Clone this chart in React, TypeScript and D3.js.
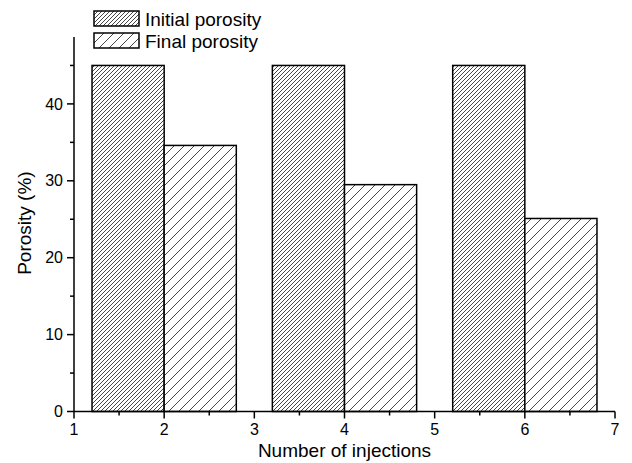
import React from 'react';
import * as d3 from 'd3';

const injections = [2, 4, 6];
const initialPorosity = [45, 45, 45];
const finalPorosity = [34.6, 29.5, 25.1];
const seriesNames = ['Initial porosity', 'Final porosity'];
const xTicks = [1, 2, 3, 4, 5, 6, 7];
const xMinor = [1.5, 2.5, 3.5, 4.5, 5.5, 6.5];
const yTicks = [0, 10, 20, 30, 40];
const yMinor = [5, 15, 25, 35, 45];

const width = 632;
const height = 463;
const font = '"Liberation Sans", Arial, sans-serif';

export default function App() {
  const x = d3.scaleLinear().domain([1, 7]).range([74, 615]);
  const y = d3.scaleLinear().domain([0, 48.7]).range([411.5, 37]);
  const barW = 0.8;

  const bars = injections.flatMap((inj, i) => [
    { key: 'i' + i, x0: inj - barW, x1: inj, v: initialPorosity[i], fill: 'url(#dense)' },
    { key: 'f' + i, x0: inj, x1: inj + barW, v: finalPorosity[i], fill: 'url(#sparse)' }
  ]);

  const y0 = y(0);

  return (
    <svg
      width={width}
      height={height}
      style={{ position: 'absolute', left: 0, top: 0, background: '#fff' }}
      fontFamily={font}
    >
      <defs>
        <pattern id="dense" patternUnits="userSpaceOnUse" width={4} height={4}>
          <rect width={4} height={4} fill="#fff" />
          <path d="M-1,1 l2,-2 M0,4 l4,-4 M3,5 l2,-2" stroke="#333" strokeWidth={0.9} />
        </pattern>
        <pattern id="sparse" patternUnits="userSpaceOnUse" width={10} height={10}>
          <rect width={10} height={10} fill="#fff" />
          <path d="M-1,1 l2,-2 M0,10 l10,-10 M9,11 l2,-2" stroke="#333" strokeWidth={0.9} />
        </pattern>
      </defs>

      {bars.map(b => (
        <rect
          key={b.key}
          x={x(b.x0)}
          y={y(b.v)}
          width={x(b.x1) - x(b.x0)}
          height={y0 - y(b.v)}
          fill={b.fill}
          stroke="#000"
          strokeWidth={1.5}
        />
      ))}

      {/* y axis */}
      <line x1={x(1)} x2={x(1)} y1={y0} y2={y.range()[1]} stroke="#000" strokeWidth={1.5} />
      {yTicks.map(t => (
        <g key={'yt' + t}>
          <line x1={x(1) - 7} x2={x(1)} y1={y(t)} y2={y(t)} stroke="#000" strokeWidth={1.5} />
          <text x={x(1) - 11} y={y(t)} dy="0.35em" textAnchor="end" fontSize={16}>
            {t}
          </text>
        </g>
      ))}
      {yMinor.map(t => (
        <line key={'ym' + t} x1={x(1) - 4} x2={x(1)} y1={y(t)} y2={y(t)} stroke="#000" strokeWidth={1.5} />
      ))}

      {/* x axis */}
      <line x1={x(1)} x2={x(7)} y1={y0} y2={y0} stroke="#000" strokeWidth={1.5} />
      {xTicks.map(t => (
        <g key={'xt' + t}>
          <line x1={x(t)} x2={x(t)} y1={y0} y2={y0 + 7} stroke="#000" strokeWidth={1.5} />
          <text x={x(t)} y={435} textAnchor="middle" fontSize={16}>
            {t}
          </text>
        </g>
      ))}
      {xMinor.map(t => (
        <line key={'xm' + t} x1={x(t)} x2={x(t)} y1={y0} y2={y0 + 4} stroke="#000" strokeWidth={1.5} />
      ))}

      <text x={(x(1) + x(7)) / 2} y={457} textAnchor="middle" fontSize={19}>
        Number of injections
      </text>
      <text transform={`translate(31,${y(24.5)}) rotate(-90)`} textAnchor="middle" fontSize={19}>
        Porosity (%)
      </text>

      {/* legend */}
      {seriesNames.map((name, i) => (
        <g key={name} transform={`translate(94,${11 + i * 22})`}>
          <rect width={45} height={15} fill={i === 0 ? 'url(#dense)' : 'url(#sparse)'} stroke="#000" strokeWidth={1.5} />
          <text x={51} y={15} fontSize={19}>
            {name}
          </text>
        </g>
      ))}
    </svg>
  );
}
